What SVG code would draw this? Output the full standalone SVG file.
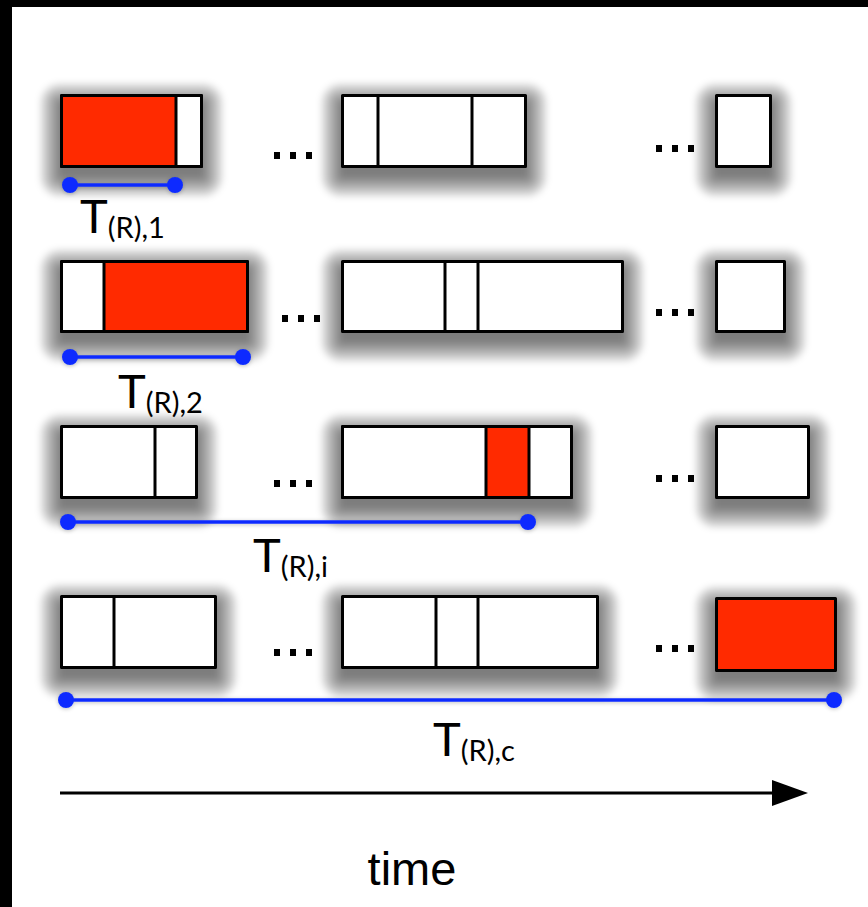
<svg xmlns="http://www.w3.org/2000/svg" width="868" height="907" viewBox="0 0 868 907">
  <defs>
    <style>
      .cell { stroke: #000; stroke-width: 3; stroke-linejoin: round; }
      .idle { fill: #fff; }
      .busy { fill: #ff2a00; }
      .div { stroke: #000; stroke-width: 3; }
      .tick { fill: #000; }
      .halo { filter: url(#smooth); }
      .halo rect { fill: #000; fill-opacity: 0.115; }
      .span { stroke: #0a2cff; stroke-width: 3.5; }
      .dot { fill: #0a2cff; }
      .lbl { font-family: Lato, "Open Sans", sans-serif; fill: #000; }
      .main { font-size: 47px; }
      .sub { font-size: 29px; }
      .axis { font-family: "Liberation Sans", Arial, sans-serif; font-size: 47px; fill: #000; }
    </style>
    <filter id="smooth" filterUnits="userSpaceOnUse" x="0" y="0" width="868" height="907">
      <feGaussianBlur stdDeviation="3"/>
    </filter>
    <filter id="soft" filterUnits="userSpaceOnUse" x="0" y="0" width="868" height="907">
      <feGaussianBlur in="SourceAlpha" stdDeviation="2"/>
      <feOffset dx="0" dy="1"/>
      <feComponentTransfer><feFuncA type="linear" slope="0.25"/></feComponentTransfer>
      <feMerge><feMergeNode/><feMergeNode in="SourceGraphic"/></feMerge>
    </filter>
    <symbol id="ellipsis" overflow="visible">
      <rect x="0" y="0" width="6" height="7"/>
      <rect x="16" y="0" width="6" height="7"/>
      <rect x="32" y="0" width="6" height="7"/>
    </symbol>
  </defs>

  <!-- page background with dark frame on top and left -->
  <rect x="0" y="0" width="868" height="907" fill="#000"/>
  <rect x="12" y="7" width="856" height="900" fill="#fff"/>

  <!-- soft drop shadows: stacked translucent layers under every block -->
  <g class="halo">
    <rect x="60" y="103" width="143" height="74"/><rect x="56" y="99" width="151" height="82" rx="4"/><rect x="52" y="95" width="159" height="90" rx="8"/><rect x="48" y="91" width="167" height="98" rx="12"/><rect x="44" y="87" width="175" height="106" rx="16"/><rect x="40" y="83" width="183" height="114" rx="20"/>
    <rect x="341" y="103" width="186" height="74"/><rect x="337" y="99" width="194" height="82" rx="4"/><rect x="333" y="95" width="202" height="90" rx="8"/><rect x="329" y="91" width="210" height="98" rx="12"/><rect x="325" y="87" width="218" height="106" rx="16"/><rect x="321" y="83" width="226" height="114" rx="20"/>
    <rect x="715" y="103" width="57" height="74"/><rect x="711" y="99" width="65" height="82" rx="4"/><rect x="707" y="95" width="73" height="90" rx="8"/><rect x="703" y="91" width="81" height="98" rx="12"/><rect x="699" y="87" width="89" height="106" rx="16"/><rect x="695" y="83" width="97" height="114" rx="20"/>

    <rect x="60" y="269" width="189" height="73"/><rect x="56" y="265" width="197" height="81" rx="4"/><rect x="52" y="261" width="205" height="89" rx="8"/><rect x="48" y="257" width="213" height="97" rx="12"/><rect x="44" y="253" width="221" height="105" rx="16"/><rect x="40" y="249" width="229" height="113" rx="20"/>
    <rect x="341" y="269" width="283" height="73"/><rect x="337" y="265" width="291" height="81" rx="4"/><rect x="333" y="261" width="299" height="89" rx="8"/><rect x="329" y="257" width="307" height="97" rx="12"/><rect x="325" y="253" width="315" height="105" rx="16"/><rect x="321" y="249" width="323" height="113" rx="20"/>
    <rect x="715" y="269" width="71" height="73"/><rect x="711" y="265" width="79" height="81" rx="4"/><rect x="707" y="261" width="87" height="89" rx="8"/><rect x="703" y="257" width="95" height="97" rx="12"/><rect x="699" y="253" width="103" height="105" rx="16"/><rect x="695" y="249" width="111" height="113" rx="20"/>

    <rect x="60" y="434" width="138" height="74"/><rect x="56" y="430" width="146" height="82" rx="4"/><rect x="52" y="426" width="154" height="90" rx="8"/><rect x="48" y="422" width="162" height="98" rx="12"/><rect x="44" y="418" width="170" height="106" rx="16"/><rect x="40" y="414" width="178" height="114" rx="20"/>
    <rect x="341" y="434" width="232" height="74"/><rect x="337" y="430" width="240" height="82" rx="4"/><rect x="333" y="426" width="248" height="90" rx="8"/><rect x="329" y="422" width="256" height="98" rx="12"/><rect x="325" y="418" width="264" height="106" rx="16"/><rect x="321" y="414" width="272" height="114" rx="20"/>
    <rect x="715" y="434" width="95" height="74"/><rect x="711" y="430" width="103" height="82" rx="4"/><rect x="707" y="426" width="111" height="90" rx="8"/><rect x="703" y="422" width="119" height="98" rx="12"/><rect x="699" y="418" width="127" height="106" rx="16"/><rect x="695" y="414" width="135" height="114" rx="20"/>

    <rect x="60" y="604" width="157" height="74"/><rect x="56" y="600" width="165" height="82" rx="4"/><rect x="52" y="596" width="173" height="90" rx="8"/><rect x="48" y="592" width="181" height="98" rx="12"/><rect x="44" y="588" width="189" height="106" rx="16"/><rect x="40" y="584" width="197" height="114" rx="20"/>
    <rect x="341" y="604" width="258" height="74"/><rect x="337" y="600" width="266" height="82" rx="4"/><rect x="333" y="596" width="274" height="90" rx="8"/><rect x="329" y="592" width="282" height="98" rx="12"/><rect x="325" y="588" width="290" height="106" rx="16"/><rect x="321" y="584" width="298" height="114" rx="20"/>
    <rect x="715" y="606" width="122" height="75"/><rect x="711" y="602" width="130" height="83" rx="4"/><rect x="707" y="598" width="138" height="91" rx="8"/><rect x="703" y="594" width="146" height="99" rx="12"/><rect x="699" y="590" width="154" height="107" rx="16"/><rect x="695" y="586" width="162" height="115" rx="20"/>
  </g>

  <!-- row 1 -->
  <g id="row1-first">
    <rect class="cell idle" x="61.5" y="95.5" width="140" height="71"/>
    <rect class="busy" x="61.5" y="95.5" width="114.5" height="71"/>
    <rect class="cell" fill="none" x="61.5" y="95.5" width="140" height="71"/>
    <line class="div" x1="176" y1="95.5" x2="176" y2="166.5"/>
  </g>
  <g id="row1-mid">
    <rect class="cell idle" x="342.5" y="95.5" width="183" height="71"/>
    <line class="div" x1="378" y1="95.5" x2="378" y2="166.5"/>
    <line class="div" x1="472" y1="95.5" x2="472" y2="166.5"/>
  </g>
  <g id="row1-last">
    <rect class="cell idle" x="716.5" y="95.5" width="54" height="71"/>
  </g>
  <g id="row1-gaps" class="tick">
    <use href="#ellipsis" x="274" y="152"/>
    <use href="#ellipsis" x="656" y="145"/>
  </g>

  <!-- row 2 -->
  <g id="row2-first">
    <rect class="cell idle" x="61.5" y="261.5" width="186" height="70"/>
    <rect class="busy" x="104" y="261.5" width="143.5" height="70"/>
    <rect class="cell" fill="none" x="61.5" y="261.5" width="186" height="70"/>
    <line class="div" x1="104" y1="261.5" x2="104" y2="331.5"/>
  </g>
  <g id="row2-mid">
    <rect class="cell idle" x="342.5" y="261.5" width="280" height="70"/>
    <line class="div" x1="445" y1="261.5" x2="445" y2="331.5"/>
    <line class="div" x1="478" y1="261.5" x2="478" y2="331.5"/>
  </g>
  <g id="row2-last">
    <rect class="cell idle" x="716.5" y="261.5" width="68" height="70"/>
  </g>
  <g id="row2-gaps" class="tick">
    <use href="#ellipsis" x="282" y="315"/>
    <use href="#ellipsis" x="656" y="309"/>
  </g>

  <!-- row 3 -->
  <g id="row3-first">
    <rect class="cell idle" x="61.5" y="426.5" width="135" height="71"/>
    <line class="div" x1="155" y1="426.5" x2="155" y2="497.5"/>
  </g>
  <g id="row3-mid">
    <rect class="cell idle" x="342.5" y="426.5" width="229" height="71"/>
    <rect class="busy" x="486" y="426.5" width="43" height="71"/>
    <rect class="cell" fill="none" x="342.5" y="426.5" width="229" height="71"/>
    <line class="div" x1="486" y1="426.5" x2="486" y2="497.5"/>
    <line class="div" x1="529" y1="426.5" x2="529" y2="497.5"/>
  </g>
  <g id="row3-last">
    <rect class="cell idle" x="716.5" y="426.5" width="92" height="71"/>
  </g>
  <g id="row3-gaps" class="tick">
    <use href="#ellipsis" x="274" y="480"/>
    <use href="#ellipsis" x="656" y="475"/>
  </g>

  <!-- row 4 -->
  <g id="row4-first">
    <rect class="cell idle" x="61.5" y="596.5" width="154" height="71"/>
    <line class="div" x1="114" y1="596.5" x2="114" y2="667.5"/>
  </g>
  <g id="row4-mid">
    <rect class="cell idle" x="342.5" y="596.5" width="255" height="71"/>
    <line class="div" x1="436" y1="596.5" x2="436" y2="667.5"/>
    <line class="div" x1="478" y1="596.5" x2="478" y2="667.5"/>
  </g>
  <g id="row4-last">
    <rect class="cell busy" x="716.5" y="598.5" width="119" height="72"/>
  </g>
  <g id="row4-gaps" class="tick">
    <use href="#ellipsis" x="274" y="649"/>
    <use href="#ellipsis" x="656" y="645"/>
  </g>

  <!-- response-time spans -->
  <g id="spans" filter="url(#soft)">
    <line class="span" x1="70" y1="185" x2="175" y2="185"/>
    <circle class="dot" cx="70" cy="185" r="8"/>
    <circle class="dot" cx="175" cy="185" r="8"/>

    <line class="span" x1="70" y1="357" x2="243" y2="357"/>
    <circle class="dot" cx="70" cy="357" r="8"/>
    <circle class="dot" cx="243" cy="357" r="8"/>

    <line class="span" x1="68" y1="522" x2="528" y2="522"/>
    <circle class="dot" cx="68" cy="522" r="8"/>
    <circle class="dot" cx="528" cy="522" r="8"/>

    <line class="span" x1="66" y1="700" x2="834" y2="700"/>
    <circle class="dot" cx="66" cy="700" r="8"/>
    <circle class="dot" cx="834" cy="700" r="8"/>
  </g>

  <!-- span labels -->
  <g id="labels" class="lbl">
    <text x="80" y="233"><tspan class="main">T</tspan><tspan class="sub" dy="5">(R),1</tspan></text>
    <text x="118" y="408"><tspan class="main">T</tspan><tspan class="sub" dy="5">(R),2</tspan></text>
    <text x="253" y="572"><tspan class="main">T</tspan><tspan class="sub" dy="5">(R),i</tspan></text>
    <text x="433" y="756"><tspan class="main">T</tspan><tspan class="sub" dy="5">(R),c</tspan></text>
  </g>

  <!-- time axis -->
  <g id="axis">
    <line x1="60" y1="793" x2="776" y2="793" stroke="#000" stroke-width="3"/>
    <polygon points="772,780 808,793 772,806" fill="#000"/>
    <text class="axis" x="412" y="885" text-anchor="middle">time</text>
  </g>
</svg>
